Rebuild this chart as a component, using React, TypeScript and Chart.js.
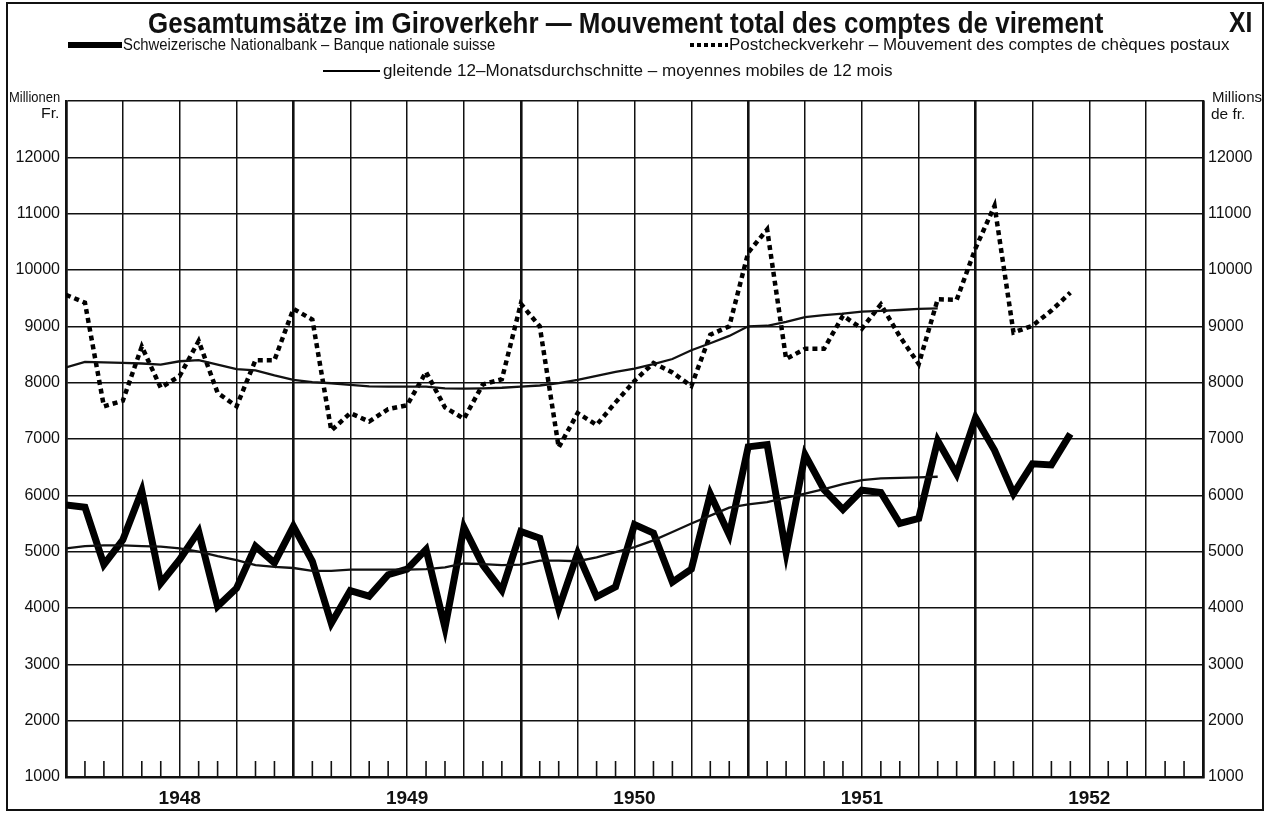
import React, { useEffect, useLayoutEffect, useRef, useState } from "react";
import { Chart, registerables } from "chart.js";

Chart.register(...registerables);

// ---- Data (monthly, index 0 = January 1948) ----
const yearLabels = ["1948", "1949", "1950", "1951", "1952"];

const nationalbank = [
  5830, 5790, 4770, 5210, 6080, 4440, 4860, 5360, 4030, 4350, 5095, 4800,
  5450, 4830, 3730, 4310, 4210, 4590, 4690, 5040, 3650, 5430, 4760, 4315,
  5360, 5240, 3990, 4970, 4200, 4375, 5480, 5330, 4460, 4690, 6020, 5300,
  6860, 6900, 4990, 6720, 6100, 5750, 6090, 6050, 5500, 5590, 6970, 6380,
  7380, 6800, 6030, 6560, 6540, 7090,
];

const postcheck = [
  9560, 9420, 7580, 7680, 8640, 7910, 8120, 8740, 7820, 7580, 8400, 8400,
  9310, 9120, 7150, 7460, 7310, 7530, 7600, 8190, 7560, 7360, 7970, 8060,
  9400, 9000, 6850, 7460, 7250, 7650, 8030, 8350, 8180, 7940, 8850, 9000,
  10310, 10720, 8420, 8600, 8600, 9190, 8960, 9390, 8820, 8330, 9480, 9470,
  10390, 11140, 8890, 9010, 9280, 9600,
];

const nationalbankAverage = [
  5060, 5100, 5110, 5110, 5100, 5090, 5060, 5000, 4920, 4850, 4760, 4730,
  4710, 4660, 4660, 4680, 4680, 4680, 4680, 4690, 4720, 4790, 4780, 4760,
  4770, 4840, 4840, 4830, 4900, 4990, 5080, 5200, 5350, 5500, 5640, 5780,
  5840, 5880, 5960, 6030, 6110, 6200, 6270, 6300, 6310, 6320, 6330,
];

const postcheckAverage = [
  8270, 8370, 8360, 8350, 8340, 8320, 8380, 8400, 8320, 8240, 8220, 8130,
  8050, 8010, 7990, 7960, 7935, 7930, 7930, 7930, 7900, 7895, 7900, 7910,
  7930, 7950, 7990, 8050, 8120, 8190, 8250, 8330, 8420, 8575, 8700, 8830,
  9000, 9010, 9080, 9165, 9200, 9225, 9260, 9275, 9290, 9310, 9320,
];

const yMin = 1000;
const yMax = 13000;
const yStep = 1000;
const monthsShown = 60;

const NARROW = "'Liberation Sans Narrow', 'Liberation Sans', Arial, sans-serif";
const SANS = "'Liberation Sans', Arial, sans-serif";
const INK = "#111";

type FitProps = {
  text: string;
  left: number;
  width: number;
  baseline: number;
  size: number;
  weight?: number;
  family?: string;
};

function FitText({ text, left, width, baseline, size, weight = 400, family = NARROW }: FitProps) {
  const ref = useRef<HTMLSpanElement>(null);
  const [sx, setSx] = useState(1);
  useLayoutEffect(() => {
    const el = ref.current;
    if (!el) return;
    const natural = el.offsetWidth;
    if (natural > 0) setSx(width / natural);
  }, [text, width, size]);
  return (
    <span
      ref={ref}
      style={{
        position: "absolute",
        left,
        top: baseline - 0.846 * size,
        fontFamily: family,
        fontSize: size,
        fontWeight: weight,
        lineHeight: `${size}px`,
        whiteSpace: "nowrap",
        color: INK,
        transform: `scaleX(${sx})`,
        transformOrigin: "left top",
      }}
    >
      {text}
    </span>
  );
}

const monthTicks = {
  id: "monthTicks",
  afterDraw(chart: any) {
    const { ctx, chartArea, scales } = chart;
    const x = scales.x;
    ctx.save();
    ctx.strokeStyle = INK;
    ctx.lineWidth = 1.6;
    for (let m = 1; m < monthsShown; m++) {
      if (m % 3 === 0) continue;
      const px = x.getPixelForValue(m);
      ctx.beginPath();
      ctx.moveTo(px, chartArea.bottom);
      ctx.lineTo(px, chartArea.bottom - 16);
      ctx.stroke();
    }
    ctx.restore();
  },
};

function ChartCanvas() {
  const canvasRef = useRef<HTMLCanvasElement>(null);
  useEffect(() => {
    const canvas = canvasRef.current;
    if (!canvas) return;
    const toPoints = (arr: number[]) => arr.map((v, i) => ({ x: i, y: v }));
    const chart = new Chart(canvas, {
      type: "line",
      data: {
        datasets: [
          {
            label: "gleitende 12-Monatsdurchschnitte (Postcheck)",
            data: toPoints(postcheckAverage),
            borderColor: INK,
            borderWidth: 2.3,
            pointRadius: 0,
            tension: 0,
          },
          {
            label: "gleitende 12-Monatsdurchschnitte (Nationalbank)",
            data: toPoints(nationalbankAverage),
            borderColor: INK,
            borderWidth: 2.3,
            pointRadius: 0,
            tension: 0,
          },
          {
            label: "Postcheckverkehr",
            data: toPoints(postcheck),
            borderColor: "#000",
            borderWidth: 4.5,
            borderDash: [5, 4],
            borderCapStyle: "butt",
            borderJoinStyle: "miter",
            pointRadius: 0,
            tension: 0,
          },
          {
            label: "Schweizerische Nationalbank",
            data: toPoints(nationalbank),
            borderColor: "#000",
            borderWidth: 7,
            borderJoinStyle: "miter",
            pointRadius: 0,
            tension: 0,
          },
        ],
      },
      options: {
        responsive: false,
        animation: false,
        events: [],
        layout: { padding: { top: 101, left: 0, right: 0, bottom: 0 } },
        plugins: { legend: { display: false }, tooltip: { enabled: false }, title: { display: false } },
        scales: {
          x: {
            type: "linear",
            min: 0,
            max: monthsShown,
            afterBuildTicks: (scale: any) => {
              const t = [];
              for (let v = 0; v <= monthsShown; v += 3) t.push({ value: v });
              scale.ticks = t;
            },
            afterFit: (scale: any) => {
              scale.height = 36;
            },
            ticks: {
              autoSkip: false,
              maxRotation: 0,
              padding: 10,
              color: INK,
              font: { family: SANS, size: 19, weight: "bold" },
              callback: (value: any) => {
                const v = Number(value);
                return v % 12 === 6 ? yearLabels[(v - 6) / 12] : "";
              },
            },
            grid: {
              color: INK,
              drawTicks: false,
              lineWidth: (ctx: any) => (ctx.tick && ctx.tick.value % 12 === 0 ? 2.6 : 1.5),
            },
            border: { display: true, color: INK, width: 2.4 },
          },
          y: {
            type: "linear",
            position: "left",
            min: yMin,
            max: yMax,
            afterFit: (scale: any) => {
              scale.width = 66;
            },
            ticks: {
              stepSize: yStep,
              padding: 6,
              color: INK,
              font: { family: SANS, size: 16 },
              callback: (value: any) => (Number(value) >= yMax ? "" : String(value)),
            },
            grid: { color: INK, lineWidth: 1.5, drawTicks: false },
            border: { display: true, color: INK, width: 2.4 },
          },
          y2: {
            type: "linear",
            position: "right",
            min: yMin,
            max: yMax,
            afterFit: (scale: any) => {
              scale.width = 66;
            },
            ticks: {
              stepSize: yStep,
              padding: 5,
              color: INK,
              font: { family: SANS, size: 16 },
              callback: (value: any) => (Number(value) >= yMax ? "" : String(value)),
            },
            grid: { display: false, drawTicks: false },
            border: { display: true, color: INK, width: 2.4 },
          },
        },
      },
      plugins: [monthTicks],
    } as any);
    return () => chart.destroy();
  }, []);
  return (
    <canvas
      ref={canvasRef}
      width={1269}
      height={813}
      style={{ position: "absolute", left: 0, top: 0, width: 1269, height: 813 }}
    />
  );
}

export default function App() {
  return (
    <div
      style={{
        position: "absolute",
        left: 0,
        top: 0,
        width: 1269,
        height: 813,
        background: "#fff",
        overflow: "hidden",
      }}
    >
      <div
        style={{
          position: "absolute",
          left: 6,
          top: 2,
          width: 1254,
          height: 805,
          border: `2px solid ${INK}`,
        }}
      />
      <ChartCanvas />
      <FitText
        text="Gesamtumsätze im Giroverkehr — Mouvement total des comptes de virement"
        left={148}
        width={955}
        baseline={33}
        size={30}
        weight={700}
      />
      <FitText text="XI" left={1229} width={23} baseline={33} size={29} weight={700} />

      <div style={{ position: "absolute", left: 68, top: 42, width: 54, height: 6, background: "#000" }} />
      <FitText text="Schweizerische Nationalbank – Banque nationale suisse" left={123} width={372} baseline={51} size={16} />

      <div
        style={{
          position: "absolute",
          left: 690,
          top: 43,
          width: 38,
          height: 4,
          background: "repeating-linear-gradient(90deg, #000 0px, #000 4px, transparent 4px, transparent 7px)",
        }}
      />
      <FitText text="Postcheckverkehr – Mouvement des comptes de chèques postaux" left={729} width={500} baseline={51} size={16} />

      <div style={{ position: "absolute", left: 323, top: 70, width: 57, height: 2, background: "#000" }} />
      <FitText text="gleitende 12–Monatsdurchschnitte – moyennes mobiles de 12 mois" left={383} width={510} baseline={77} size={16} />

      <FitText text="Millionen" left={9} width={51} baseline={102} size={15} />
      <FitText text="Fr." left={41} width={19} baseline={118} size={15} />
      <FitText text="Millions" left={1212} width={50} baseline={102} size={15} />
      <FitText text="de fr." left={1211} width={34} baseline={119} size={15} />
    </div>
  );
}
